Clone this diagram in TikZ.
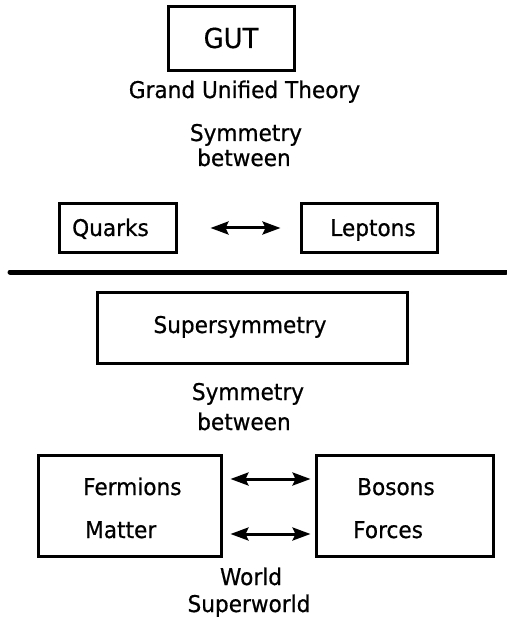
\documentclass[tikz,border=0pt]{standalone}
\usepackage{fontspec}
\setmainfont{DejaVu Sans}[FakeStretch=0.94,FakeBold=0.6]
\usetikzlibrary{arrows.meta}
\tikzset{
  box/.style={draw, line width=3pt, inner sep=0pt, minimum width=#1},
  lbl/.style={inner sep=0pt, anchor=base, font=\fontsize{23}{25}\selectfont},
  lblw/.style={lbl, anchor=base west},
  big/.style={inner sep=0pt, anchor=base, font=\fontsize{27.5}{30}\selectfont},
  dbl/.style={line width=3pt, {Stealth[length=18pt,width=13pt,inset=3pt]}-{Stealth[length=18pt,width=13pt,inset=3pt]}},
}
\begin{document}
\begin{tikzpicture}[x=1pt,y=-1pt]
\useasboundingbox (0,0) rectangle (506,617);
% top part
\node[box=126pt, minimum height=64pt] (gut) at (231,39) {};
\node[big] (gutt) at (231,48) {GUT};
\node[lbl] (gutl) at (244.5,98) {Grand Unified Theory};
\node[lbl] (sym1) at (246,141) {Symmetry};
\node[lbl] (bet1) at (244,166) {between};
\node[box=117pt, minimum height=48pt] (q) at (117.5,228) {};
\node[lbl] (qt) at (110.5,236) {Quarks};
\node[box=136pt, minimum height=48pt] (l) at (369,228) {};
\node[lbl] (lt) at (373,236) {Leptons};
\draw[dbl, shorten <=33pt, shorten >=19pt] (q.east) -- (l.west);
% separator
\draw[line width=5pt, line cap=round] (10,272) -- (506,272);
% bottom part
\node[box=310pt, minimum height=71pt] (s) at (252,327.5) {};
\node[lbl] (st) at (240,333) {Supersymmetry};
\node[lbl] (sym2) at (248,400) {Symmetry};
\node[lbl] (bet2) at (244,430) {between};
\node[box=183pt, minimum height=101pt] (f) at (129.5,505.5) {};
\node[box=177pt, minimum height=101pt] (b) at (404.5,505.5) {};
\node[lblw] (ft) at (83,495) {Fermions};
\node[lblw] (mt) at (85,538) {Matter};
\node[lblw] (bt) at (357,495) {Bosons};
\node[lblw] (frt) at (353,538) {Forces};
\draw[dbl, shorten <=8pt, shorten >=4pt] ([yshift=26.5pt]f.east) -- ([yshift=26.5pt]b.west);
\draw[dbl, shorten <=8pt, shorten >=4pt] ([yshift=-28.5pt]f.east) -- ([yshift=-28.5pt]b.west);
\node[lbl] (wt) at (251,585) {World};
\node[lbl] (swt) at (249,612) {Superworld};
\end{tikzpicture}
\end{document}
